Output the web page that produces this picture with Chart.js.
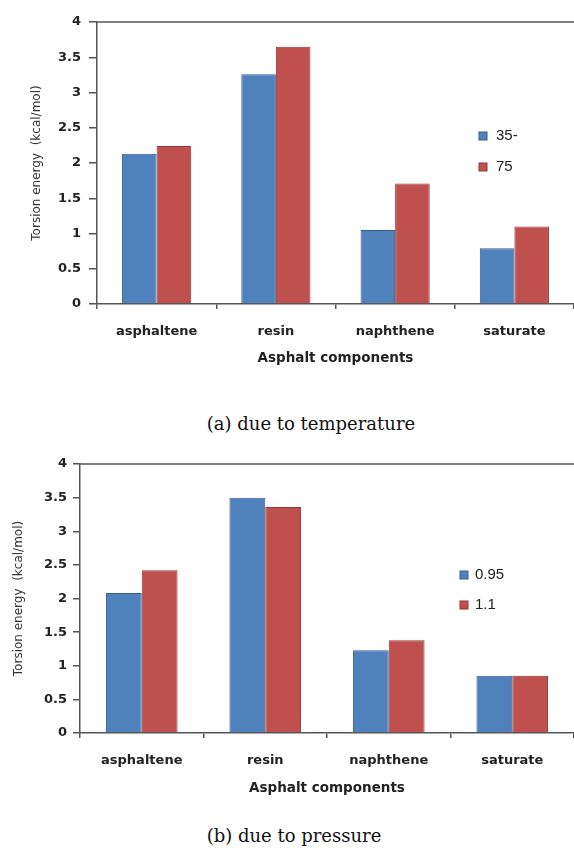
<!DOCTYPE html>
<html>
<head>
<meta charset="utf-8">
<script src="https://cdn.jsdelivr.net/npm/chart.js@4"></script>
<style>
    body { margin: 0; background: #fff; width: 574px; height: 848px; position: relative; overflow: hidden; }
    .box { position: absolute; left: 0; width: 574px; }
    .caption { position: absolute; font-family: "DejaVu Serif", serif; font-size: 18px; color: #111; white-space: nowrap; transform: translateX(-50%); }
</style>
</head>
<body>

<div class="box" style="top:0; height:375px;"><canvas id="tempChart"></canvas></div>
<div class="caption" style="left:311px; top:413px;">(a) due to temperature</div>

<div class="box" style="top:440px; height:370px;"><canvas id="pressChart"></canvas></div>
<div class="caption" style="left:294px; top:825px;">(b) due to pressure</div>

<script>
const components = ["asphaltene", "resin", "naphthene", "saturate"];

const tempLabels = ["35-", "75"];
const temp35 = [2.13, 3.26, 1.05, 0.79];
const temp75 = [2.24, 3.65, 1.71, 1.10];

const pressLabels = ["0.95", "1.1"];
const press095 = [2.08, 3.50, 1.23, 0.85];
const press11 = [2.42, 3.36, 1.38, 0.85];

const yMin = 0;
const yMax = 4;
const yStep = 0.5;

const blue = "#4f81bd";
const blueEdge = "#385d8a";
const red = "#c0504d";
const redEdge = "#8c3836";

// top line of the plot frame + legend drawn inside the plot
const framePlugin = {
    id: "frame",
    afterDraw(chart, args, opts) {
        const ctx = chart.ctx;
        const area = chart.chartArea;
        ctx.save();
        ctx.strokeStyle = "#555";
        ctx.lineWidth = 1.5;
        ctx.beginPath();
        ctx.moveTo(area.left, area.top);
        ctx.lineTo(area.right, area.top);
        ctx.stroke();

        ctx.font = "15px 'Liberation Sans', Arial, sans-serif";
        ctx.textBaseline = "middle";
        chart.data.datasets.forEach((ds, i) => {
            const y = opts.y + i * opts.gap;
            ctx.fillStyle = ds.backgroundColor;
            ctx.fillRect(opts.x - 4, y - 4, 8, 8);
            ctx.strokeStyle = ds.borderColor;
            ctx.lineWidth = 1;
            ctx.strokeRect(opts.x - 4, y - 4, 8, 8);
            ctx.fillStyle = "#222";
            ctx.fillText(ds.label, opts.textX, y);
        });
        ctx.restore();
    }
};

function makeChart(id, labels, seriesA, seriesB, lay) {
    return new Chart(document.getElementById(id), {
        type: "bar",
        data: {
            labels: components,
            datasets: [{
                label: labels[0],
                data: seriesA,
                backgroundColor: blue,
                borderColor: blueEdge,
                borderWidth: 1,
                categoryPercentage: 0.58,
                barPercentage: 1
            }, {
                label: labels[1],
                data: seriesB,
                backgroundColor: red,
                borderColor: redEdge,
                borderWidth: 1,
                categoryPercentage: 0.58,
                barPercentage: 1
            }]
        },
        options: {
            responsive: true,
            maintainAspectRatio: false,
            animation: false,
            layout: { padding: { top: lay.top, left: 0, right: 0, bottom: 0 } },
            plugins: {
                legend: { display: false },
                tooltip: { enabled: false },
                frame: lay.legend
            },
            scales: {
                x: {
                    afterFit: scale => { scale.height = lay.xHeight; },
                    grid: { drawOnChartArea: false, tickLength: 5, color: "#555", lineWidth: 1.5, offset: true },
                    border: { color: "#555", width: 1.5 },
                    ticks: { color: "#222", padding: lay.xPad, font: { family: "'DejaVu Sans', sans-serif", size: 13, weight: "bold" } },
                    title: {
                        display: true,
                        text: "Asphalt components",
                        color: "#222",
                        padding: { top: 0, bottom: lay.xTitlePad },
                        font: { family: "'DejaVu Sans', sans-serif", size: 13.5, weight: "bold" }
                    }
                },
                y: {
                    min: yMin,
                    max: yMax,
                    afterFit: scale => { scale.width = lay.yWidth; },
                    grid: { drawOnChartArea: false, tickLength: lay.yTick, color: "#555", lineWidth: 1.5 },
                    border: { color: "#555", width: 1.5 },
                    ticks: {
                        stepSize: yStep,
                        color: "#222",
                        padding: lay.yPad,
                        callback: v => String(v),
                        font: { family: "'DejaVu Sans', sans-serif", size: 13, weight: "bold" }
                    },
                    title: {
                        display: true,
                        text: "Torsion energy  (kcal/mol)",
                        color: "#333",
                        padding: { top: lay.yTitlePad, bottom: 0 },
                        font: { family: "'DejaVu Sans', sans-serif", size: 12 }
                    }
                }
            }
        },
        plugins: [framePlugin]
    });
}

makeChart("tempChart", tempLabels, temp35, temp75, {
    top: 22, xHeight: 71, xPad: 15, xTitlePad: 8,
    yWidth: 97, yTick: 8, yPad: 8, yTitlePad: 30,
    legend: { x: 483, textX: 496, y: 136, gap: 31 }
});

makeChart("pressChart", pressLabels, press095, press11, {
    top: 24, xHeight: 77, xPad: 15, xTitlePad: 13,
    yWidth: 80, yTick: 7, yPad: 6, yTitlePad: 12,
    legend: { x: 464, textX: 475, y: 135, gap: 30 }
});
</script>
</body>
</html>
